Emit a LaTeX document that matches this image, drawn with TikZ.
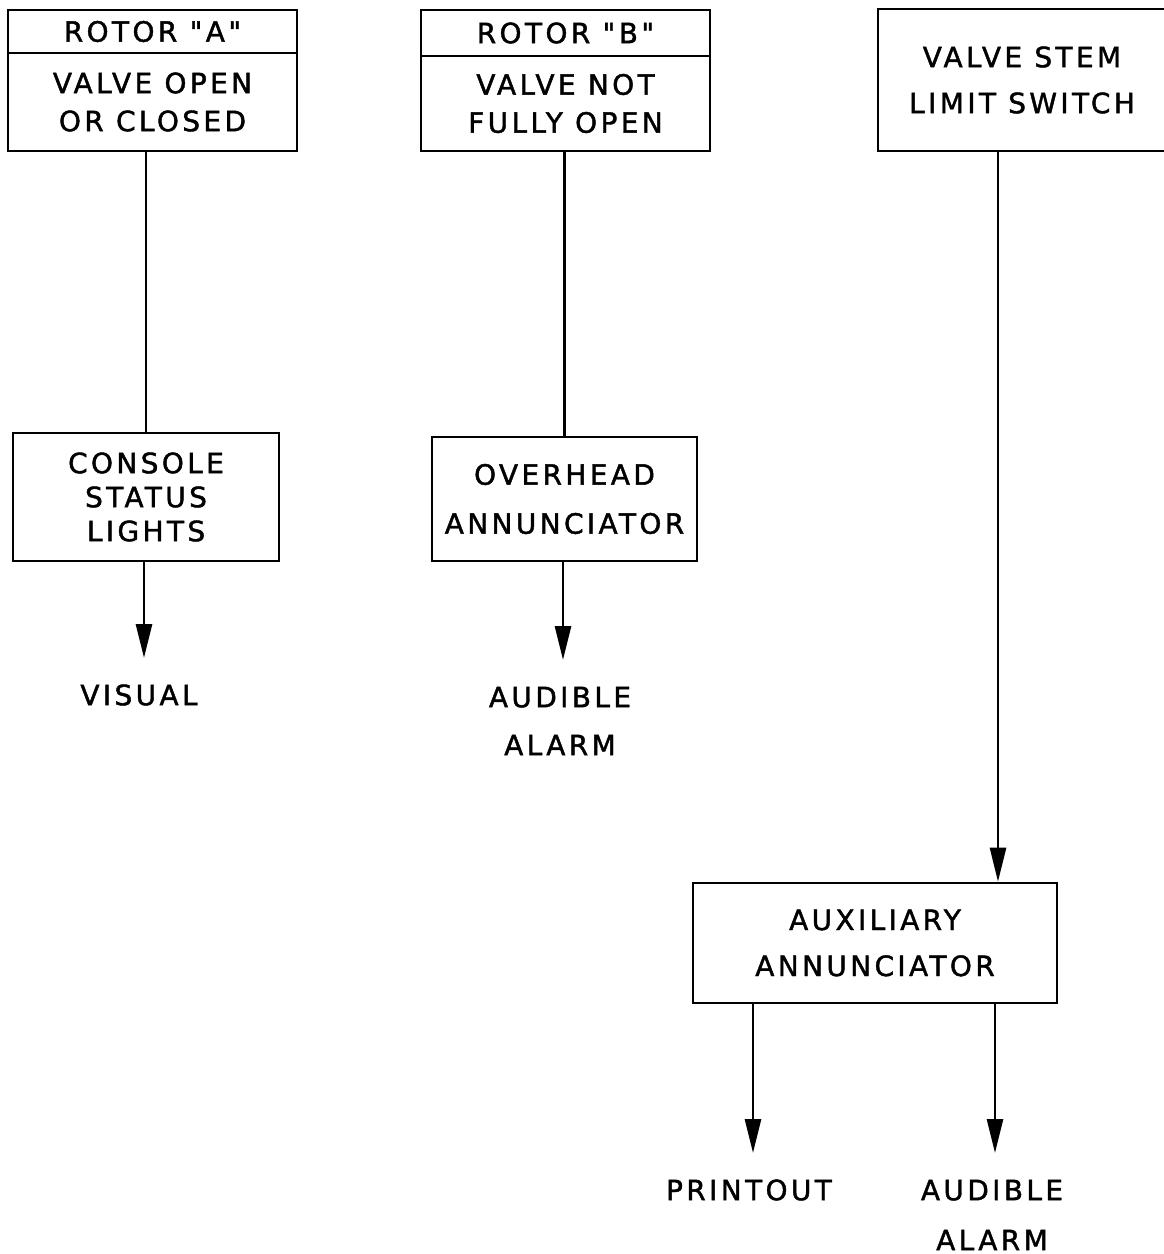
\documentclass[tikz,border=0pt]{standalone}
\usepackage{fontspec}
\setmainfont{DejaVu Sans}[LetterSpace=12,FakeBold=1.5,Ligatures=TeXOff]
\usetikzlibrary{arrows.meta}

\begin{document}
\begin{tikzpicture}[x=0.5pt,y=-0.5pt,line width=1.3pt,
        box/.style={draw,rectangle,inner sep=0pt,align=center,font=\fontsize{14}{#1}\selectfont},
        box/.default=23pt,
        lbl/.style={align=center,inner sep=0pt,font=\fontsize{14}{#1}\selectfont},
        lbl/.default=24pt,
        sig/.style={-{Triangle[length=17pt,width=8pt]}}]
        \useasboundingbox (0,0) rectangle (1163,1254);
        \node[box,minimum width=144.5pt,minimum height=21.5pt] (rotA) at (152.5,31.5) {ROTOR "A"};
        \node[box=19pt,minimum width=144.5pt,minimum height=49pt] (valA) at (152.5,102) {VALVE OPEN\\OR CLOSED};
        \node[box,minimum width=144.5pt,minimum height=23pt] (rotB) at (565.5,33) {ROTOR "B"};
        \node[box=19pt,minimum width=144.5pt,minimum height=47.5pt] (valB) at (565.5,103.5) {VALVE NOT\\FULLY OPEN};
        \node[box,minimum width=144pt,minimum height=71pt] (stem) at (1022,80) {VALVE STEM\\LIMIT SWITCH};
        \node[box=17pt,minimum width=133pt,minimum height=64pt] (cons) at (146,497) {CONSOLE\\STATUS\\LIGHTS};
        \node[box=24.5pt,minimum width=132.5pt,minimum height=62pt] (ovh) at (564.5,499) {OVERHEAD\\ANNUNCIATOR};
        \node[box,minimum width=182pt,minimum height=60pt] (aux) at (875,943) {AUXILIARY\\ANNUNCIATOR};
        \node[lbl] (vis) at (139,695) {VISUAL};
        \node[lbl] (aud) at (560,721) {AUDIBLE\\ALARM};
        \node[lbl] (prn) at (749,1190) {PRINTOUT};
        \node[lbl=25pt] (aud2) at (992,1215) {AUDIBLE\\ALARM};
        \coordinate (visTip) at (144,658);
        \coordinate (audTip) at (563,660);
        \coordinate (prnTip) at (753,1153);
        \coordinate (aud2Tip) at (995,1153);
        \draw (cons.north |- valA.south) -- (cons.north);
        \draw (ovh.north |- valB.south) -- (ovh.north);
        \draw[sig] ([xshift=-12pt]stem.south) -- ([xshift=-12pt]stem.south |- aux.north);
        \draw[sig] (cons.south -| visTip) -- (visTip);
        \draw[sig] (ovh.south -| audTip) -- (audTip);
        \draw[sig] (aux.south -| prnTip) -- (prnTip);
        \draw[sig] (aux.south -| aud2Tip) -- (aud2Tip);
\end{tikzpicture}
\end{document}
